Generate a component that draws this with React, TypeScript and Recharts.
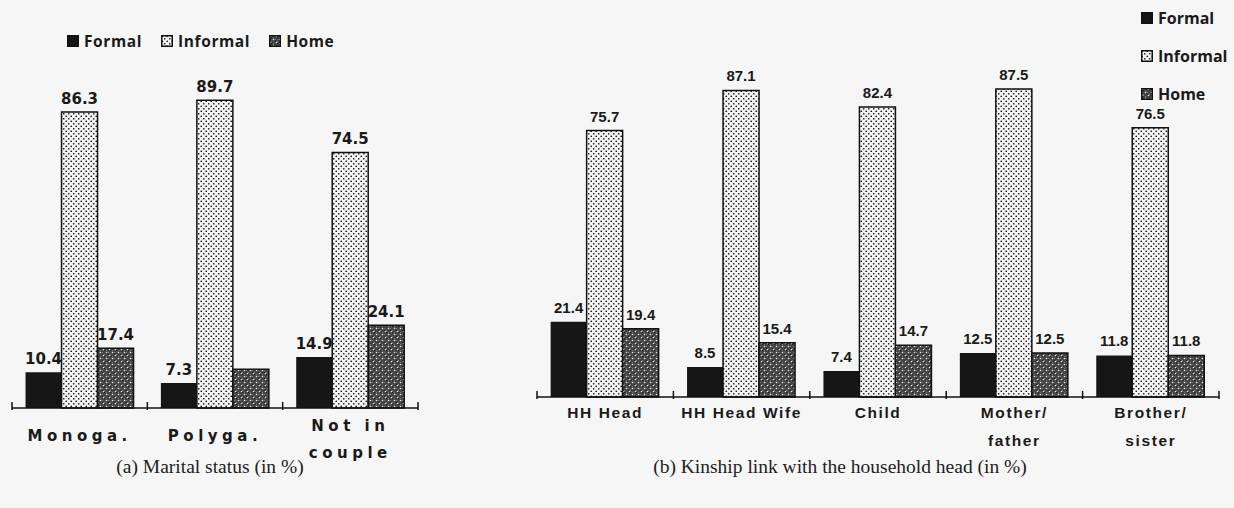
import React from 'react';
import { BarChart, Bar, XAxis, YAxis, LabelList } from 'recharts';

// (a) marital status
const maritalCats = ['Monoga.', 'Polyga.', 'Not in\ncouple'];
const maritalFormal = [10.4, 7.3, 14.9];
const maritalInformal = [86.3, 89.7, 74.5];
const maritalHome = [17.4, 11.3, 24.1];
const maritalHomeLabels = ['17.4', '', '24.1'];

// (b) kinship link with the household head
const kinCats = ['HH Head', 'HH Head Wife', 'Child', 'Mother/\nfather', 'Brother/\nsister'];
const kinFormal = [21.4, 8.5, 7.4, 12.5, 11.8];
const kinInformal = [75.7, 87.1, 82.4, 87.5, 76.5];
const kinHome = [19.4, 15.4, 14.7, 12.5, 11.8];

const seriesNames = ['Formal', 'Informal', 'Home'];

const maritalData = maritalCats.map((name, i) => ({
    name,
    formal: maritalFormal[i],
    informal: maritalInformal[i],
    home: maritalHome[i],
    homeLabel: maritalHomeLabels[i],
}));

const kinData = kinCats.map((name, i) => ({
    name,
    formal: kinFormal[i],
    informal: kinInformal[i],
    home: kinHome[i],
    homeLabel: String(kinHome[i]),
}));

const BG = '#f6f6f6';

function Patterns({ prefix }: { prefix: string }) {
    return (
        <defs>
            <pattern id={`${prefix}-informal`} patternUnits="userSpaceOnUse" width="5" height="5">
                <rect width="5" height="5" fill="#f4f4f4" />
                <circle cx="1.25" cy="1.25" r="0.85" fill="#111" />
                <circle cx="3.75" cy="3.75" r="0.85" fill="#111" />
            </pattern>
            <pattern id={`${prefix}-home`} patternUnits="userSpaceOnUse" width="6" height="6">
                <rect width="6" height="6" fill="#444" />
                <rect x="0" y="0" width="1" height="1" fill="#1e1e1e" />
                <rect x="2" y="2" width="1" height="1" fill="#1e1e1e" />
                <rect x="4" y="4" width="1" height="1" fill="#1e1e1e" />
                <rect x="2" y="0" width="1" height="1" fill="#777" />
                <rect x="4" y="2" width="1" height="1" fill="#777" />
                <rect x="0" y="4" width="1" height="1" fill="#777" />
                <circle cx="1.5" cy="1.5" r="0.8" fill="#e8e8e8" />
                <circle cx="4.5" cy="4.5" r="0.8" fill="#e8e8e8" />
            </pattern>
        </defs>
    );
}

function LegendIcon({ kind, id }: { kind: number; id: string }) {
    return (
        <svg width="12" height="12" style={{ marginRight: 5, flex: 'none' }}>
            <Patterns prefix={id} />
            <rect
                x="0.75"
                y="0.75"
                width="10.5"
                height="10.5"
                fill={kind === 0 ? '#161616' : kind === 1 ? `url(#${id}-informal)` : `url(#${id}-home)`}
                stroke="#111"
                strokeWidth="1.5"
            />
        </svg>
    );
}

const legendFont: React.CSSProperties = {
    fontFamily: '"Open Sans", sans-serif',
    fontWeight: 700,
    color: '#1a1a1a',
};

function makeTick(opts: {
    band: number;
    count: number;
    font: string;
    size: number;
    spacing: number;
    dy: number;
    gap: number;
    twoDy: number;
}) {
    return (props: any) => {
        const { x, y, payload, index } = props;
        const lines = String(payload.value).split('\n');
        const startDy = lines.length > 1 ? opts.twoDy : opts.dy;
        return (
            <g>
                <line x1={x - opts.band / 2} x2={x - opts.band / 2} y1={y - 6} y2={y + 2} stroke="#111" strokeWidth={1.5} />
                {index === opts.count - 1 && (
                    <line x1={x + opts.band / 2} x2={x + opts.band / 2} y1={y - 6} y2={y + 2} stroke="#111" strokeWidth={1.5} />
                )}
                {lines.map((l, i) => (
                    <text
                        key={i}
                        x={x}
                        y={y + startDy + i * opts.gap}
                        textAnchor="middle"
                        fontFamily={opts.font}
                        fontWeight={700}
                        fontSize={opts.size}
                        letterSpacing={opts.spacing}
                        fill="#1a1a1a"
                    >
                        {l}
                    </text>
                ))}
            </g>
        );
    };
}

const leftLabelStyle = { fontFamily: '"DejaVu Sans", sans-serif', fontWeight: 700, fontSize: 15, fill: '#1a1a1a' };
const rightLabelStyle = { fontFamily: '"Liberation Sans", sans-serif', fontWeight: 700, fontSize: 15, fill: '#1a1a1a' };

const captionStyle: React.CSSProperties = {
    position: 'absolute',
    top: 456,
    textAlign: 'center',
    fontFamily: '"Liberation Serif", serif',
    fontSize: 19.5,
    color: '#222',
};

export default function App() {
    const leftTick = makeTick({
        band: 406 / 3,
        count: maritalCats.length,
        font: '"DejaVu Sans", sans-serif',
        size: 15,
        spacing: 4.5,
        dy: 33,
        gap: 27,
        twoDy: 23,
    });
    const rightTick = makeTick({
        band: 682 / 5,
        count: kinCats.length,
        font: '"Liberation Sans", sans-serif',
        size: 15.5,
        spacing: 1.6,
        dy: 21,
        gap: 28,
        twoDy: 21,
    });

    return (
        <div style={{ position: 'absolute', left: 0, top: 0, width: 1234, height: 508, background: BG, overflow: 'hidden' }}>
            {/* left legend */}
            <div style={{ position: 'absolute', left: 67, top: 30, display: 'flex', alignItems: 'center', ...legendFont, fontSize: 15.5, letterSpacing: 0.6 }}>
                {seriesNames.map((s, i) => (
                    <div key={s} style={{ display: 'flex', alignItems: 'center', marginRight: 19 }}>
                        <LegendIcon kind={i} id={`la${i}`} />
                        <span>{s}</span>
                    </div>
                ))}
            </div>

            {/* right legend */}
            <div style={{ position: 'absolute', left: 1141, top: 6, ...legendFont, fontSize: 16 }}>
                {seriesNames.map((s, i) => (
                    <div key={s} style={{ display: 'flex', alignItems: 'center', height: 24, marginBottom: 14 }}>
                        <LegendIcon kind={i} id={`lb${i}`} />
                        <span>{s}</span>
                    </div>
                ))}
            </div>

            <div style={{ position: 'absolute', left: 0, top: 0 }}>
                <BarChart
                    width={430}
                    height={508}
                    data={maritalData}
                    margin={{ top: 65, right: 12, bottom: 40, left: 12 }}
                    barCategoryGap="10%"
                    barGap={0}
                >
                    <Patterns prefix="ca" />
                    <XAxis
                        dataKey="name"
                        height={60}
                        interval={0}
                        tickSize={0}
                        tickMargin={0}
                        tickLine={false}
                        axisLine={{ stroke: '#111', strokeWidth: 1.5 }}
                        tick={leftTick}
                    />
                    <YAxis hide domain={[0, 100]} />
                    <Bar dataKey="formal" fill="#161616" isAnimationActive={false}>
                        <LabelList dataKey="formal" position="top" offset={8} style={leftLabelStyle} />
                    </Bar>
                    <Bar dataKey="informal" fill="url(#ca-informal)" stroke="#111" strokeWidth={1.5} isAnimationActive={false}>
                        <LabelList dataKey="informal" position="top" offset={8} style={leftLabelStyle} />
                    </Bar>
                    <Bar dataKey="home" fill="url(#ca-home)" stroke="#111" strokeWidth={1.5} isAnimationActive={false}>
                        <LabelList dataKey="homeLabel" position="top" offset={8} style={leftLabelStyle} />
                    </Bar>
                </BarChart>
            </div>

            <div style={{ position: 'absolute', left: 520, top: 0 }}>
                <BarChart
                    width={714}
                    height={508}
                    data={kinData}
                    margin={{ top: 45, right: 15, bottom: 51, left: 17 }}
                    barCategoryGap="10%"
                    barGap={0}
                >
                    <Patterns prefix="cb" />
                    <XAxis
                        dataKey="name"
                        height={60}
                        interval={0}
                        tickSize={0}
                        tickMargin={0}
                        tickLine={false}
                        axisLine={{ stroke: '#111', strokeWidth: 1.5 }}
                        tick={rightTick}
                    />
                    <YAxis hide domain={[0, 100]} />
                    <Bar dataKey="formal" fill="#161616" isAnimationActive={false}>
                        <LabelList dataKey="formal" position="top" offset={9} style={rightLabelStyle} />
                    </Bar>
                    <Bar dataKey="informal" fill="url(#cb-informal)" stroke="#111" strokeWidth={1.5} isAnimationActive={false}>
                        <LabelList dataKey="informal" position="top" offset={9} style={rightLabelStyle} />
                    </Bar>
                    <Bar dataKey="home" fill="url(#cb-home)" stroke="#111" strokeWidth={1.5} isAnimationActive={false}>
                        <LabelList dataKey="homeLabel" position="top" offset={9} style={rightLabelStyle} />
                    </Bar>
                </BarChart>
            </div>

            <div style={{ ...captionStyle, left: 0, width: 420 }}>(a) Marital status (in %)</div>
            <div style={{ ...captionStyle, left: 540, width: 600 }}>(b) Kinship link with the household head (in %)</div>
        </div>
    );
}
